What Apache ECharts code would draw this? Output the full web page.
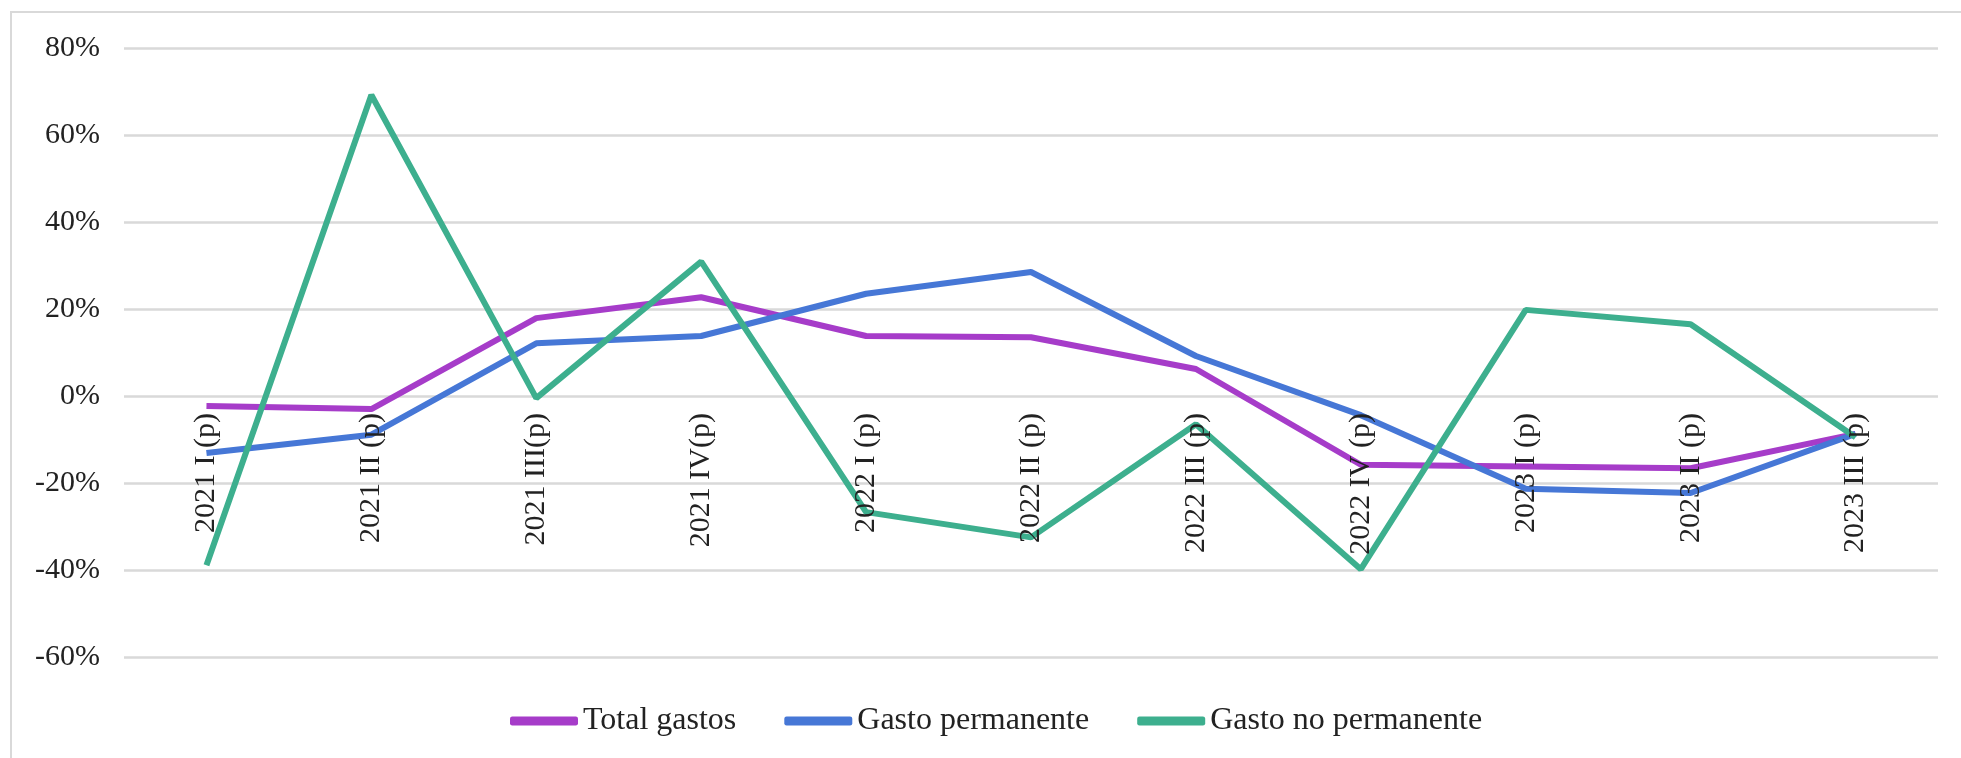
<!DOCTYPE html>
<html>
<head>
<meta charset="utf-8">
<script src="https://cdn.jsdelivr.net/npm/echarts@6/dist/echarts.min.js"></script>
<style>
html,body{margin:0;padding:0;background:#fff;}
#chart{width:1961px;height:758px;}
</style>
</head>
<body>
<div id="chart"></div>
<script>
const categories = ['2021 I (p)', '2021 II (p)', '2021 III(p)', '2021 IV(p)', '2022 I (p)', '2022 II (p)', '2022 III (p)', '2022 IV (p)', '2023 I (p)', '2023 II (p)', '2023 III (p)'];
const totalGastos = [-2.3, -3.0, 17.9, 22.7, 13.8, 13.5, 6.2, -15.8, -16.2, -16.6, -8.7];
const gastoPermanente = [-13.1, -8.9, 12.1, 13.8, 23.5, 28.5, 9.2, -4.4, -21.3, -22.3, -8.7];
const gastoNoPermanente = [-38.9, 69.2, -0.5, 30.9, -26.7, -32.5, -6.5, -39.8, 19.8, 16.5, -9.5];
const seriesNames = ['Total gastos', 'Gasto permanente', 'Gasto no permanente'];
const yTicks = { min: -60, max: 80, interval: 20 };

const FONT = 'Liberation Serif';
const colors = ['#a63cc9', '#4677d6', '#3daf8e'];

const GRID_TOP = 48, GRID_BOTTOM = 101, H = 758;
const gridH = H - GRID_TOP - GRID_BOTTOM;
// distance from grid bottom up to the zero line, so the category axis sits on 0%
const zeroOffset = gridH * (0 - yTicks.min) / (yTicks.max - yTicks.min);

const chart = echarts.init(document.getElementById('chart'), null, { renderer: 'canvas' });
const mk = (name, data, color) => ({
  name: name,
  type: 'line',
  data: data,
  symbol: 'none',
  smooth: false,
  lineStyle: { width: 6, color: color },
  itemStyle: { color: color }
});
chart.setOption({
  animation: false,
  backgroundColor: '#ffffff',
  graphic: [{
    type: 'rect',
    shape: { x: 11, y: 12, width: 2000, height: 800 },
    style: { fill: 'none', stroke: '#d9d9d9', lineWidth: 2 },
    silent: true,
    z: -10
  }],
  grid: { left: 124, right: 23, top: GRID_TOP, bottom: GRID_BOTTOM, containLabel: false, outerBoundsMode: 'none' },
  legend: {
    data: seriesNames,
    left: 505,
    top: 700,
    icon: 'roundRect',
    itemWidth: 68,
    itemHeight: 9,
    itemGap: 48,
    textStyle: { fontFamily: FONT, fontSize: 32, color: '#222' }
  },
  xAxis: {
    type: 'category',
    data: categories,
    boundaryGap: true,
    position: 'bottom',
    offset: -zeroOffset,
    z: 10,
    axisLine: { show: false, onZero: false },
    axisTick: { show: false },
    axisLabel: { rotate: 90, margin: 17, fontFamily: FONT, fontSize: 30, color: '#222', interval: 0 },
    splitLine: { show: false }
  },
  yAxis: {
    type: 'value',
    min: yTicks.min,
    max: yTicks.max,
    interval: yTicks.interval,
    axisLine: { show: false },
    axisTick: { show: false },
    axisLabel: { formatter: '{value}%', margin: 24, fontFamily: FONT, fontSize: 30, color: '#222' },
    splitLine: { lineStyle: { color: '#d9d9d9', width: 2.5 } }
  },
  series: [
    mk(seriesNames[0], totalGastos, colors[0]),
    mk(seriesNames[1], gastoPermanente, colors[1]),
    mk(seriesNames[2], gastoNoPermanente, colors[2])
  ]
});
</script>
</body>
</html>
